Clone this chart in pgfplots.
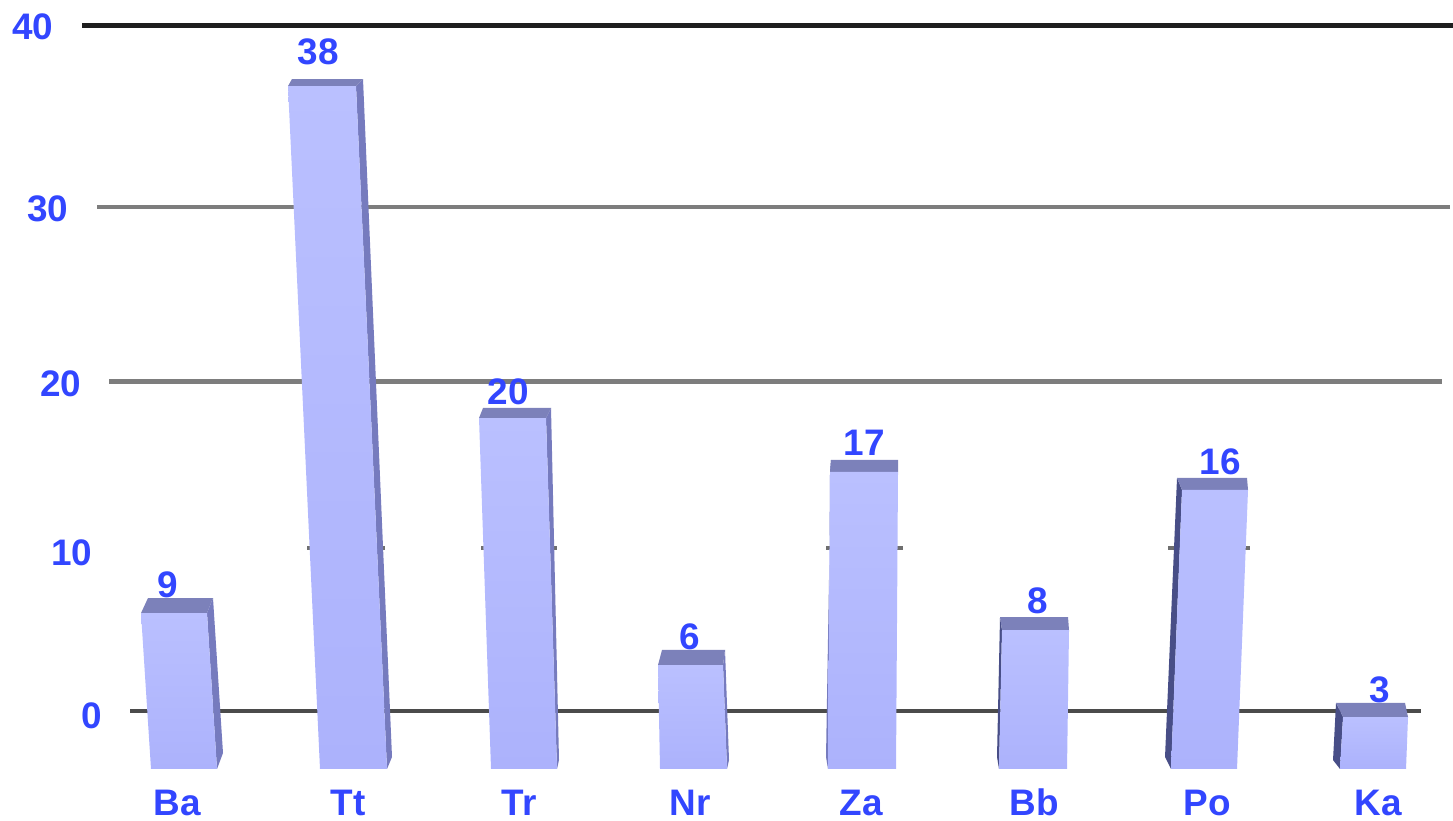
\documentclass[border=0pt]{standalone}
\usepackage{fontspec}
\setmainfont{Liberation Sans}
\usepackage{pgfplots}
\pgfplotsset{compat=1.18}
\definecolor{lblue}{RGB}{50,70,255}
\definecolor{fronttop}{RGB}{186,192,255}
\definecolor{frontbot}{RGB}{172,178,252}
\definecolor{topface}{RGB}{124,129,186}
\definecolor{sideR}{RGB}{118,123,190}
\definecolor{sideL}{RGB}{72,78,135}
% front, top and side face of one bar: x in pixels of the picture, y in chart units
\newcommand{\threedbar}[4]{%
  \addplot[draw=none,fill=#4] coordinates {#3} --cycle;
  \addplot[draw=none,fill=topface] coordinates {#2} --cycle;
  \addplot[draw=none,top color=fronttop,bottom color=frontbot] coordinates {#1} --cycle;
}
\begin{document}
\begin{tikzpicture}
\path[use as bounding box] (0,-0.46) rectangle (14.53,7.75);
\begin{axis}[
  at={(0,0)},anchor=south west,
  scale only axis,
  width=14.53cm,height=7.75cm,
  xmin=0,xmax=1453,ymin=-3.73,ymax=41.46,
  axis line style={draw=none},
  major tick length=0pt,
  xtick={177,348,519,690,861,1034,1207,1378},
  xticklabels={Ba,Tt,Tr,Nr,Za,Bb,Po,Ka},
  typeset ticklabels with strut,
  ytick=\empty,
  tick label style={font=\fontsize{10.5}{12}\selectfont\bfseries,text=lblue},
  xticklabel style={yshift=0.5pt},
  clip=false,
  point meta=explicit symbolic,
  nodes near coords style={anchor=center,inner sep=0pt,text=lblue,
    font=\fontsize{10.5}{12}\selectfont\bfseries},
]
% grid lines, each shorter than the one above
\addplot[draw={rgb,255:red,30;green,30;blue,30},line width=0.5mm] coordinates {(82,40) (1453,40)};
\addplot[draw={rgb,255:red,125;green,125;blue,125},line width=0.42mm] coordinates {(97,29.39) (1450,29.39)};
\addplot[draw={rgb,255:red,125;green,125;blue,125},line width=0.5mm] coordinates {(109,19.24) (1442,19.24)};
\addplot[draw={rgb,255:red,110;green,110;blue,110},line width=0.4mm] coordinates {(307,9.5) (385,9.5)};
\addplot[draw={rgb,255:red,110;green,110;blue,110},line width=0.4mm] coordinates {(481,9.5) (557,9.5)};
\addplot[draw={rgb,255:red,110;green,110;blue,110},line width=0.4mm] coordinates {(826,9.5) (903,9.5)};
\addplot[draw={rgb,255:red,110;green,110;blue,110},line width=0.4mm] coordinates {(1168,9.5) (1250,9.5)};
\addplot[draw={rgb,255:red,75;green,75;blue,75},line width=0.45mm] coordinates {(130,0) (1421,0)};
% bars
\threedbar{(141,5.71) (207,5.71) (217,-3.38) (151,-3.38)}{(148,6.59) (213,6.59) (207,5.71) (141,5.71)}{(207,5.71) (213,6.59) (223,-2.45) (217,-3.38)}{sideR}
\threedbar{(288,36.44) (356,36.44) (387,-3.38) (320,-3.38)}{(292,36.85) (363,36.85) (356,36.44) (288,36.44)}{(356,36.44) (363,36.85) (392,-2.68) (387,-3.38)}{sideR}
\threedbar{(479,17.08) (546,17.08) (557,-3.38) (491,-3.38)}{(483,17.67) (551,17.67) (546,17.08) (479,17.08)}{(546,17.08) (551,17.67) (559,-2.86) (557,-3.38)}{sideR}
\threedbar{(658,2.68) (723,2.68) (727,-3.38) (660,-3.38)}{(662,3.56) (725,3.56) (723,2.68) (658,2.68)}{(723,2.68) (725,3.56) (729,-2.86) (727,-3.38)}{sideR}
\threedbar{(830,13.94) (898,13.94) (896,-3.38) (828,-3.38)}{(831,14.64) (898,14.64) (898,13.94) (830,13.94)}{(831,14.64) (830,13.94) (828,-3.38) (826,-2.68)}{sideR}
\threedbar{(1002,4.72) (1069,4.72) (1067,-3.38) (999,-3.38)}{(1000,5.48) (1068,5.48) (1069,4.72) (1002,4.72)}{(1000,5.48) (1002,4.72) (999,-3.38) (997,-2.68)}{sideL}
\threedbar{(1182,12.89) (1248,12.89) (1237,-3.38) (1171,-3.38)}{(1177,13.59) (1247,13.59) (1248,12.89) (1182,12.89)}{(1177,13.59) (1182,12.89) (1171,-3.38) (1165,-2.68)}{sideL}
\threedbar{(1343,-0.35) (1408,-0.35) (1406,-3.38) (1340,-3.38)}{(1336,0.47) (1405,0.47) (1408,-0.35) (1343,-0.35)}{(1336,0.47) (1343,-0.35) (1340,-3.38) (1333,-2.86)}{sideL}
% value labels
\addplot[draw=none,mark=none,nodes near coords] table[x=x,y=y,meta=lab] {
x y lab
168 7.35 9
318 38.43 38
508 18.60 20
690 4.31 6
864 15.63 17
1038 6.41 8
1220 14.52 16
1380 1.22 3
};
% scale labels, stepping in with the perspective
\addplot[draw=none,mark=none,nodes near coords] table[x=x,y=y,meta=lab] {
x y lab
33 39.88 40
48 29.27 30
61 19.07 20
72 9.21 10
92 -0.29 0
};
\end{axis}
\end{tikzpicture}
\end{document}
